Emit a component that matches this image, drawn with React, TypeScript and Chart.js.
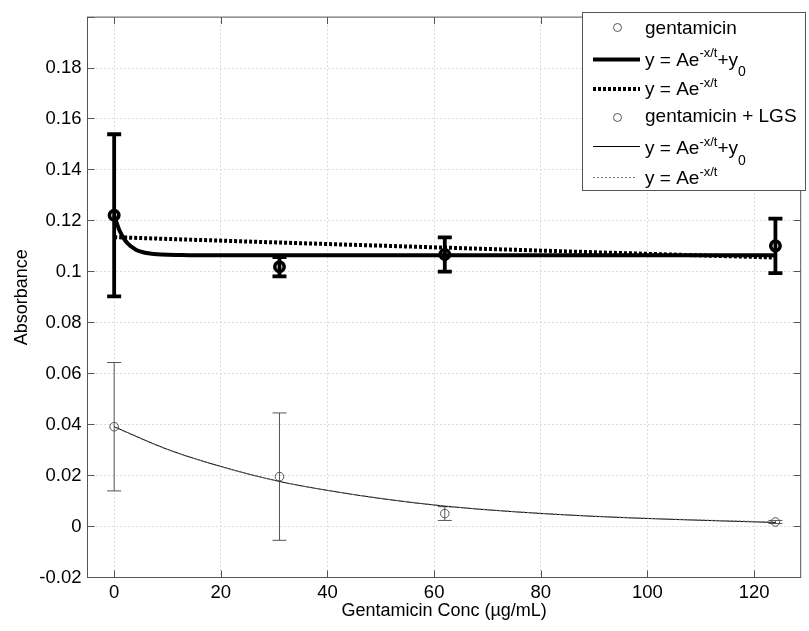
import React, { useEffect, useRef } from 'react';
import { Chart, registerables } from 'chart.js';

Chart.register(...registerables);

// ---- data ----
const concentrations = [0, 31, 62, 124];
const gentMean = [0.1222, 0.102, 0.1068, 0.1102];
const gentErr = [0.0318, 0.0038, 0.0067, 0.0107];
const lgsMean = [0.0392, 0.0196, 0.0051, 0.0018];
const lgsErr = [0.0252, 0.025, 0.0027, 0.0006];

// fitted curves
const fitGentX = [0, 1, 2, 3, 4, 5, 6, 7, 8, 10, 12, 15, 20, 40, 62, 90, 124];
const fitGentY = [0.1222, 0.1162, 0.1125, 0.1102, 0.1088, 0.1079, 0.1074, 0.1071, 0.1069, 0.1067, 0.1066, 0.1065, 0.1065, 0.1065, 0.1065, 0.1065, 0.1065];
const fitGentNoOffX = [0, 31, 62, 93, 124];
const fitGentNoOffY = [0.1136, 0.1115, 0.1095, 0.1075, 0.1056];
const fitLgsX = [0, 10, 20, 31, 40, 50, 62, 75, 90, 105, 124];
const fitLgsY = [0.0392, 0.0303, 0.0236, 0.0177, 0.0142, 0.011, 0.008, 0.0058, 0.004, 0.0028, 0.0016];
const fitLgsNoOffX = [0, 10, 20, 31, 40, 50, 62, 75, 90, 105, 124];
const fitLgsNoOffY = [0.039, 0.0302, 0.0235, 0.0177, 0.0142, 0.0111, 0.0081, 0.0059, 0.0041, 0.0029, 0.0018];

const xTickValues = [0, 20, 40, 60, 80, 100, 120];
const yTickValues = [-0.02, 0, 0.02, 0.04, 0.06, 0.08, 0.1, 0.12, 0.14, 0.16, 0.18, 0.2];

const xTitle = 'Gentamicin Conc (\u00B5g/mL)';
const yTitle = 'Absorbance';
const seriesNames = ['gentamicin', 'gentamicin + LGS'];
const eqMain = 'y = Ae';
const eqSup = '-x/t';
const eqPlus = '+y';
const eqSub = '0';

const FAMILY = '"Liberation Sans", Arial, Helvetica, sans-serif';

const pts = (xs: number[], ys: number[]) => xs.map((x, i) => ({ x, y: ys[i] }));

const bgPlugin = {
  id: 'bg',
  beforeDraw(chart: any) {
    const ctx = chart.ctx;
    ctx.save();
    ctx.fillStyle = '#fff';
    ctx.fillRect(0, 0, chart.width, chart.height);
    ctx.restore();
  },
};

const errorBarPlugin = {
  id: 'errorBars',
  beforeDatasetsDraw(chart: any) {
    const ctx = chart.ctx;
    const xs = chart.scales.x;
    const ys = chart.scales.y;
    const draw = (means: number[], errs: number[], color: string, lw: number, capHalf: number) => {
      ctx.save();
      ctx.strokeStyle = color;
      ctx.lineWidth = lw;
      ctx.lineCap = 'butt';
      concentrations.forEach((c, i) => {
        const px = xs.getPixelForValue(c);
        const top = ys.getPixelForValue(means[i] + errs[i]);
        const bot = ys.getPixelForValue(means[i] - errs[i]);
        ctx.beginPath();
        ctx.moveTo(px, top);
        ctx.lineTo(px, bot);
        ctx.moveTo(px - capHalf, top);
        ctx.lineTo(px + capHalf, top);
        ctx.moveTo(px - capHalf, bot);
        ctx.lineTo(px + capHalf, bot);
        ctx.stroke();
      });
      ctx.restore();
    };
    draw(lgsMean, lgsErr, '#555', 1, 7);
    draw(gentMean, gentErr, '#000', 3.8, 7);
  },
};

const framePlugin = {
  id: 'frame',
  afterDatasetsDraw(chart: any) {
    const ctx = chart.ctx;
    const a = chart.chartArea;
    const xs = chart.scales.x;
    const ys = chart.scales.y;
    const tl = 7;
    ctx.save();
    ctx.strokeStyle = '#555';
    ctx.lineWidth = 1;
    ctx.beginPath();
    xTickValues.forEach((v) => {
      const p = Math.round(xs.getPixelForValue(v)) + 0.5;
      ctx.moveTo(p, a.bottom);
      ctx.lineTo(p, a.bottom - tl);
      ctx.moveTo(p, a.top);
      ctx.lineTo(p, a.top + tl);
    });
    yTickValues.forEach((v) => {
      const p = Math.round(ys.getPixelForValue(v) - 0.5) + 0.5;
      ctx.moveTo(a.left, p);
      ctx.lineTo(a.left + tl, p);
      ctx.moveTo(a.right, p);
      ctx.lineTo(a.right - tl, p);
    });
    ctx.stroke();
    ctx.strokeRect(a.left, a.top, a.right - a.left, a.bottom - a.top);
    ctx.restore();
  },
};

const legendPlugin = {
  id: 'matlabLegend',
  afterDraw(chart: any) {
    const ctx = chart.ctx;
    ctx.save();
    const bx = 582.5, by = 12.5, bw = 223, bh = 178;
    ctx.fillStyle = '#fff';
    ctx.fillRect(bx, by, bw, bh);
    ctx.strokeStyle = '#555';
    ctx.lineWidth = 1;
    ctx.strokeRect(bx, by, bw, bh);

    const tx = 645;
    const s0 = 593, s1 = 640;
    const mainFont = `19px ${FAMILY}`;
    const supFont = `13px ${FAMILY}`;
    const subFont = `14px ${FAMILY}`;
    ctx.textAlign = 'left';
    ctx.textBaseline = 'alphabetic';
    ctx.fillStyle = '#000';

    const eq = (base: number, withOffset: boolean) => {
      let x = tx;
      ctx.font = mainFont;
      ctx.fillText(eqMain, x, base);
      x += ctx.measureText(eqMain).width;
      ctx.font = supFont;
      ctx.fillText(eqSup, x, base - 8.5);
      x += ctx.measureText(eqSup).width;
      if (withOffset) {
        ctx.font = mainFont;
        ctx.fillText(eqPlus, x, base);
        x += ctx.measureText(eqPlus).width;
        ctx.font = subFont;
        ctx.fillText(eqSub, x, base + 10.5);
      }
    };
    const line = (y: number, w: number, color: string, dash: number[], x1 = s1) => {
      ctx.save();
      ctx.strokeStyle = color;
      ctx.lineWidth = w;
      ctx.setLineDash(dash);
      ctx.beginPath();
      ctx.moveTo(s0, y);
      ctx.lineTo(x1, y);
      ctx.stroke();
      ctx.restore();
    };
    const circle = (y: number) => {
      ctx.save();
      ctx.strokeStyle = '#555';
      ctx.lineWidth = 1;
      ctx.beginPath();
      ctx.arc(617.5, y, 4, 0, Math.PI * 2);
      ctx.stroke();
      ctx.restore();
    };

    circle(27.5);
    ctx.font = mainFont;
    ctx.fillText(seriesNames[0], tx, 33.5);
    line(59.5, 4, '#000', []);
    eq(65.5, true);
    line(89, 4, '#000', [3, 2]);
    eq(95, false);
    circle(117.5);
    ctx.font = mainFont;
    ctx.fillStyle = '#000';
    ctx.fillText(seriesNames[1], tx, 122);
    line(146.5, 1, '#000', []);
    eq(154, true);
    line(177.5, 1, '#777', [2, 2], 635);
    eq(184, false);
    ctx.restore();
  },
};

export default function App() {
  const ref = useRef<HTMLCanvasElement | null>(null);
  useEffect(() => {
    if (!ref.current) return;
    const tickFont = { family: FAMILY, size: 18.5 };
    const titleFont = { family: FAMILY, size: 18 };
    const chart = new Chart(ref.current, {
      type: 'scatter',
      data: {
        datasets: [
          {
            label: seriesNames[0],
            data: pts(concentrations, gentMean),
            showLine: false,
            pointRadius: 4.7,
            pointBorderWidth: 3.6,
            pointBorderColor: '#000',
            pointBackgroundColor: 'rgba(0,0,0,0)',
            order: 1,
          },
          {
            label: 'fit gent',
            data: pts(fitGentX, fitGentY),
            showLine: true,
            borderColor: '#000',
            borderWidth: 4,
            pointRadius: 0,
            cubicInterpolationMode: 'monotone',
            order: 6,
          },
          {
            label: 'fit gent no offset',
            data: pts(fitGentNoOffX, fitGentNoOffY),
            showLine: true,
            borderColor: '#000',
            borderWidth: 4,
            borderDash: [3, 2],
            pointRadius: 0,
            cubicInterpolationMode: 'monotone',
            order: 5,
          },
          {
            label: seriesNames[1],
            data: pts(concentrations, lgsMean),
            showLine: false,
            pointRadius: 4.3,
            pointBorderWidth: 1,
            pointBorderColor: '#555',
            pointBackgroundColor: 'rgba(0,0,0,0)',
            order: 2,
          },
          {
            label: 'fit lgs',
            data: pts(fitLgsX, fitLgsY),
            showLine: true,
            borderColor: '#000',
            borderWidth: 1,
            pointRadius: 0,
            cubicInterpolationMode: 'monotone',
            order: 4,
          },
          {
            label: 'fit lgs no offset',
            data: pts(fitLgsNoOffX, fitLgsNoOffY),
            showLine: true,
            borderColor: '#777',
            borderWidth: 1,
            borderDash: [2, 2],
            pointRadius: 0,
            cubicInterpolationMode: 'monotone',
            order: 3,
          },
        ],
      },
      options: {
        animation: false,
        responsive: false,
        devicePixelRatio: 1,
        layout: { padding: { left: 0, top: 4.5, right: 1.5, bottom: 0 } },
        plugins: { legend: { display: false }, tooltip: { enabled: false } },
        scales: {
          x: {
            type: 'linear',
            min: -5,
            max: 128.74,
            afterBuildTicks: (s: any) => {
              s.ticks = xTickValues.map((v) => ({ value: v }));
            },
            afterFit: (s: any) => {
              s.height = 53.5;
            },
            grid: { color: '#dcdcdc', lineWidth: 1, drawTicks: false },
            border: { display: false, dash: [2, 2] },
            ticks: {
              padding: 4,
              color: '#000',
              font: tickFont,
              maxRotation: 0,
              autoSkip: false,
              callback: (v: any) => String(v),
            },
            title: {
              display: true,
              text: xTitle,
              color: '#000',
              font: titleFont,
              padding: { top: 0, bottom: 9 },
            },
          },
          y: {
            type: 'linear',
            min: -0.02,
            max: 0.2,
            afterBuildTicks: (s: any) => {
              s.ticks = yTickValues.map((v) => ({ value: v }));
            },
            afterFit: (s: any) => {
              s.width = 87.5;
            },
            grid: { color: '#dcdcdc', lineWidth: 1, drawTicks: false },
            border: { display: false, dash: [2, 2] },
            ticks: {
              padding: 6,
              color: '#000',
              font: tickFont,
              autoSkip: false,
              callback: (v: any) => (v > 0.19 ? '' : String(Math.round(v * 100) / 100)),
            },
            title: {
              display: true,
              text: yTitle,
              color: '#000',
              font: titleFont,
              padding: { top: 11, bottom: 0 },
            },
          },
        },
      },
      plugins: [bgPlugin, errorBarPlugin, framePlugin, legendPlugin],
    } as any);
    return () => chart.destroy();
  }, []);

  return (
    <div style={{ position: 'absolute', left: 0, top: 0, width: 809, height: 631, background: '#fff' }}>
      <canvas ref={ref} width={809} height={631} style={{ display: 'block', width: 809, height: 631 }} />
    </div>
  );
}
